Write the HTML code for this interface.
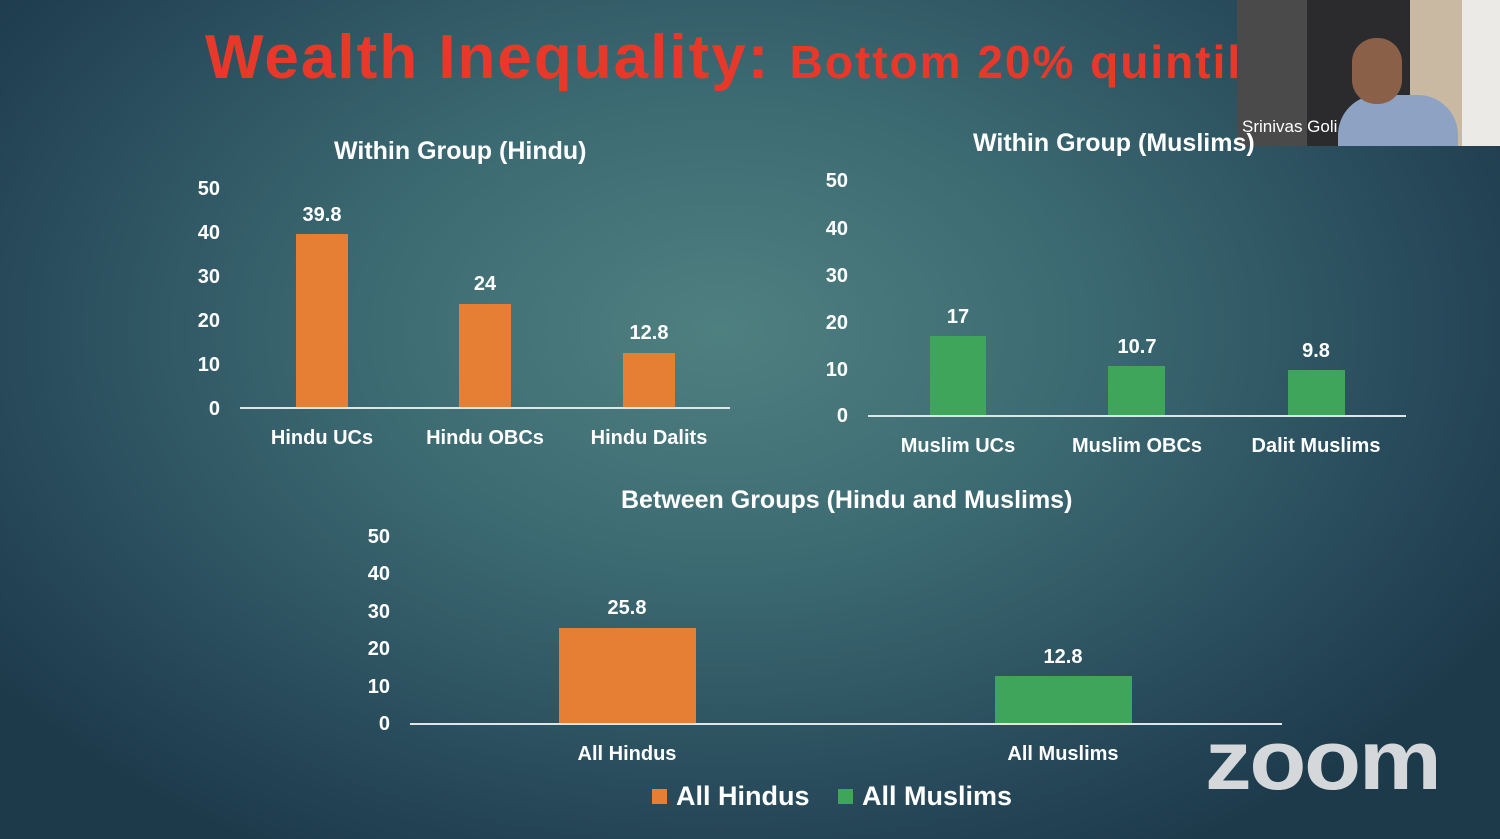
<!DOCTYPE html>
<html><head><meta charset="utf-8"><style>
body{margin:0;width:1500px;height:839px;overflow:hidden;position:relative;font-family:"Liberation Sans",sans-serif;
background:radial-gradient(ellipse 900px 600px at 720px 330px,#4f8080 0%,#3c6a72 40%,#27495a 80%,#1d3a4b 100%);color:#fff;}
.t{position:absolute;white-space:nowrap;font-weight:bold}
.b{position:absolute}
.ax{position:absolute;height:2px;background:#dfe6e8}
.y{position:absolute;font-weight:bold;font-size:20px;text-align:right;width:40px}
.c{position:absolute;font-weight:bold;font-size:20px;text-align:center;width:200px}
.o{background:#e67e33}.g{background:#3fa55a}
</style></head><body>
<div class="t" style="left:205px;top:22px;color:#e8382a;font-size:62px;letter-spacing:2px">Wealth Inequality: <span style="font-size:46px;letter-spacing:2px">Bottom 20% quintil</span></div>

<!-- webcam -->
<div class="b" style="left:1237px;top:0;width:263px;height:146px;background:#2b2b2e"></div>
<div class="b" style="left:1237px;top:0;width:70px;height:146px;background:#4a4a4a"></div>
<div class="b" style="left:1410px;top:0;width:52px;height:146px;background:#c9b9a3"></div>
<div class="b" style="left:1462px;top:0;width:38px;height:146px;background:#eceae6"></div>
<div class="b" style="left:1338px;top:95px;width:120px;height:51px;background:#8ea2c4;border-radius:40px 40px 0 0"></div>
<div class="b" style="left:1352px;top:38px;width:50px;height:66px;background:#8a6048;border-radius:24px"></div>
<div class="t" style="left:1242px;top:117px;font-size:17px;font-weight:normal">Srinivas Goli</div>

<!-- Hindu chart -->
<div class="t" style="left:334px;top:137px;font-size:25px">Within Group (Hindu)</div>
<div class="y" style="left:180px;top:178px">50</div><div class="y" style="left:180px;top:222px">40</div>
<div class="y" style="left:180px;top:266px">30</div><div class="y" style="left:180px;top:310px">20</div>
<div class="y" style="left:180px;top:354px">10</div><div class="y" style="left:180px;top:398px">0</div>
<div class="ax" style="left:240px;top:407px;width:490px"></div>
<div class="b o" style="left:296px;top:234px;width:52px;height:173px"></div>
<div class="b o" style="left:459px;top:304px;width:52px;height:103px"></div>
<div class="b o" style="left:623px;top:353px;width:52px;height:54px"></div>
<div class="c" style="left:222px;top:204px">39.8</div><div class="c" style="left:385px;top:273px">24</div><div class="c" style="left:549px;top:322px">12.8</div>
<div class="c" style="left:222px;top:427px">Hindu UCs</div><div class="c" style="left:385px;top:427px">Hindu OBCs</div><div class="c" style="left:549px;top:427px">Hindu Dalits</div>

<!-- Muslim chart -->
<div class="t" style="left:973px;top:129px;font-size:25px">Within Group (Muslims)</div>
<div class="y" style="left:808px;top:170px">50</div><div class="y" style="left:808px;top:218px">40</div>
<div class="y" style="left:808px;top:265px">30</div><div class="y" style="left:808px;top:312px">20</div>
<div class="y" style="left:808px;top:359px">10</div><div class="y" style="left:808px;top:405px">0</div>
<div class="ax" style="left:868px;top:415px;width:538px"></div>
<div class="b g" style="left:930px;top:336px;width:56px;height:79px"></div>
<div class="b g" style="left:1108px;top:366px;width:57px;height:49px"></div>
<div class="b g" style="left:1288px;top:370px;width:57px;height:45px"></div>
<div class="c" style="left:858px;top:306px">17</div><div class="c" style="left:1037px;top:336px">10.7</div><div class="c" style="left:1216px;top:340px">9.8</div>
<div class="c" style="left:858px;top:435px">Muslim UCs</div><div class="c" style="left:1037px;top:435px">Muslim OBCs</div><div class="c" style="left:1216px;top:435px">Dalit Muslims</div>

<!-- Between -->
<div class="t" style="left:621px;top:486px;font-size:25px">Between Groups (Hindu and Muslims)</div>
<div class="y" style="left:350px;top:526px">50</div><div class="y" style="left:350px;top:563px">40</div>
<div class="y" style="left:350px;top:601px">30</div><div class="y" style="left:350px;top:638px">20</div>
<div class="y" style="left:350px;top:676px">10</div><div class="y" style="left:350px;top:713px">0</div>
<div class="ax" style="left:410px;top:723px;width:872px"></div>
<div class="b o" style="left:559px;top:628px;width:137px;height:95px"></div>
<div class="b g" style="left:995px;top:676px;width:137px;height:47px"></div>
<div class="c" style="left:527px;top:597px">25.8</div><div class="c" style="left:963px;top:646px">12.8</div>
<div class="c" style="left:527px;top:743px">All Hindus</div><div class="c" style="left:963px;top:743px">All Muslims</div>

<div class="b o" style="left:652px;top:789px;width:15px;height:15px"></div>
<div class="t" style="left:676px;top:781px;font-size:27px">All Hindus</div>
<div class="b g" style="left:838px;top:789px;width:15px;height:15px"></div>
<div class="t" style="left:862px;top:781px;font-size:27px">All Muslims</div>

<div class="t" style="left:1205px;top:712px;font-size:84px;color:#d4d8da;letter-spacing:-2px;transform:scaleX(1.11);transform-origin:left top">zoom</div>
</body></html>
